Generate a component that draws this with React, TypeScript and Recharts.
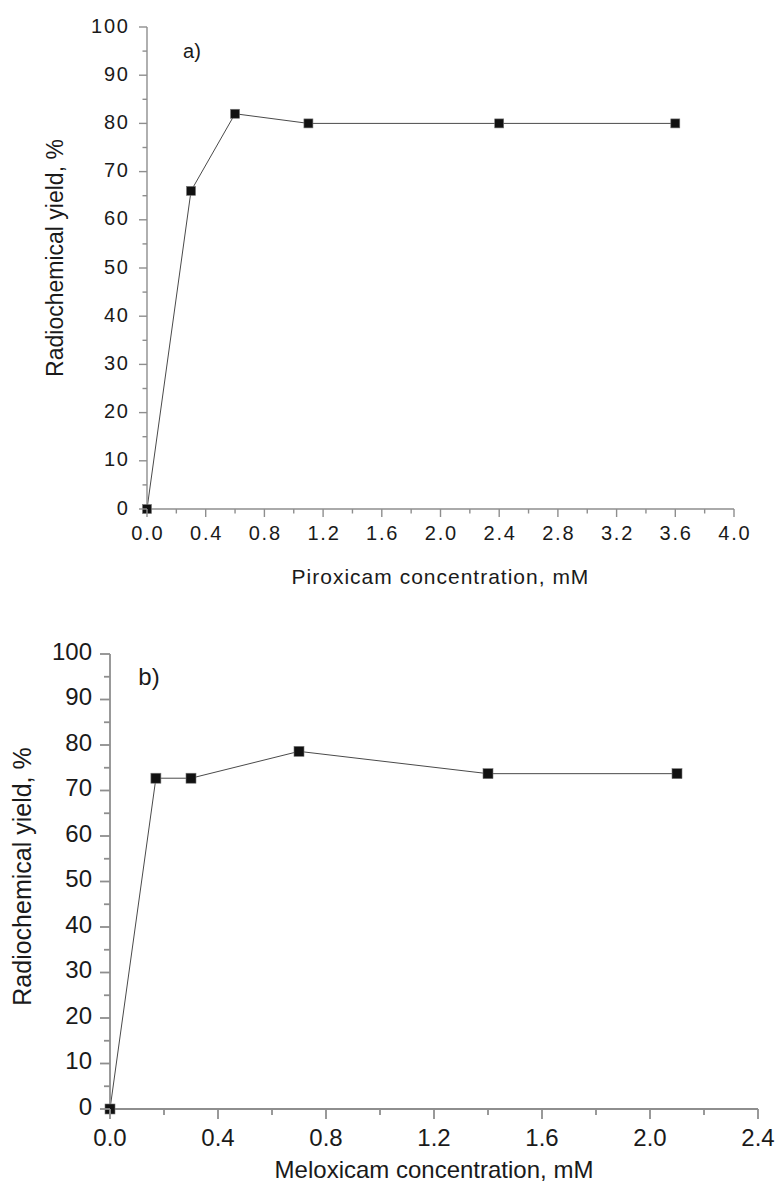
import React from "react"
import { LineChart, Line, XAxis, YAxis } from "recharts"

// a) piroxicam, b) meloxicam — radiochemical yield vs concentration
const PIROXICAM_MM = [0, 0.3, 0.6, 1.1, 2.4, 3.6]
const PIROXICAM_YIELD = [0, 66, 82, 80, 80, 80]

const MELOXICAM_MM = [0, 0.17, 0.3, 0.7, 1.4, 2.1]
const MELOXICAM_YIELD = [0, 72.7, 72.7, 78.6, 73.7, 73.7]

const PIROXICAM_TICKS = [0, 0.4, 0.8, 1.2, 1.6, 2.0, 2.4, 2.8, 3.2, 3.6, 4.0]
const MELOXICAM_TICKS = [0, 0.4, 0.8, 1.2, 1.6, 2.0, 2.4]
const YIELD_TICKS = [0, 10, 20, 30, 40, 50, 60, 70, 80, 90, 100]

const Y_TITLE = "Radiochemical yield, %"

const AXIS_GREY = "#8e8e8e"
const INK = "#1a1a1a"
const FONT = "'Liberation Sans', Arial, sans-serif"

type PanelStyle = {
    width: number
    height: number
    margin: { top: number; right: number; bottom: number; left: number }
    yAxisWidth: number
    xAxisHeight: number
    axisWidth: number
    majorLen: number
    minorLen: number
    tickFont: number
    spacing: number
    xLabelDy: number
    yLabelGap: number
    yLabelDy: number
    xTitleFont: number
    xTitleSpacing: number
    xTitleDy: number
    yTitleFont: number
    yTitleX: number
    yTitleDy: number
    letterFont: number
    letterX: number
    letterY: number
    marker: number
}

const TOP_STYLE: PanelStyle = {
    width: 782,
    height: 600,
    margin: { top: 27, right: 48, bottom: 0, left: 0 },
    yAxisWidth: 147,
    xAxisHeight: 91,
    axisWidth: 1.4,
    majorLen: 8,
    minorLen: 4.5,
    tickFont: 20,
    spacing: 1.8,
    xLabelDy: 23.5,
    yLabelGap: 19,
    yLabelDy: -1.5,
    xTitleFont: 21,
    xTitleSpacing: 1,
    xTitleDy: 67,
    yTitleFont: 23,
    yTitleX: 55,
    yTitleDy: -10,
    letterFont: 20,
    letterX: 192,
    letterY: 51,
    marker: 9,
}

const BOTTOM_STYLE: PanelStyle = {
    width: 782,
    height: 583,
    margin: { top: 54, right: 24, bottom: 0, left: 0 },
    yAxisWidth: 110,
    xAxisHeight: 74,
    axisWidth: 1.8,
    majorLen: 10,
    minorLen: 6,
    tickFont: 24,
    spacing: 0,
    xLabelDy: 28.5,
    yLabelGap: 18,
    yLabelDy: -3,
    xTitleFont: 24,
    xTitleSpacing: 0,
    xTitleDy: 60,
    yTitleFont: 25,
    yTitleX: 22,
    yTitleDy: -5,
    letterFont: 24,
    letterX: 149,
    letterY: 76,
    marker: 10,
}

function withMinor(ticks: number[]) {
    const out: number[] = []
    ticks.forEach((t, i) => {
        out.push(t)
        if (i < ticks.length - 1) out.push((t + ticks[i + 1]) / 2)
    })
    return out
}

const isMajor = (v: number, majors: number[]) => majors.some(m => Math.abs(m - v) < 1e-6)

function Panel({ xs, ys, xTicks, xTitle, letter, s }: {
    xs: number[]
    ys: number[]
    xTicks: number[]
    xTitle: string
    letter: string
    s: PanelStyle
}) {
    const data = xs.map((x, i) => ({ x, y: ys[i] }))
    const plotLeft = s.margin.left + s.yAxisWidth
    const plotRight = s.width - s.margin.right
    const plotTop = s.margin.top
    const plotBottom = s.height - s.margin.bottom - s.xAxisHeight
    const textStyle = { fontFamily: FONT, fill: INK }

    const xTick = (p: any) => {
        const major = isMajor(p.payload.value, xTicks)
        return (
            <g>
                <line x1={p.x} x2={p.x} y1={p.y} y2={p.y + (major ? s.majorLen : s.minorLen)} stroke={AXIS_GREY} strokeWidth={s.axisWidth} />
                {major && (
                    <text x={p.x + s.spacing / 2} y={p.y + s.xLabelDy} textAnchor="middle" dominantBaseline="central"
                        fontSize={s.tickFont} letterSpacing={s.spacing} style={textStyle}>
                        {p.payload.value.toFixed(1)}
                    </text>
                )}
            </g>
        )
    }

    const yTick = (p: any) => {
        const major = isMajor(p.payload.value, YIELD_TICKS)
        return (
            <g>
                <line x1={p.x - (major ? s.majorLen : s.minorLen)} x2={p.x} y1={p.y} y2={p.y} stroke={AXIS_GREY} strokeWidth={s.axisWidth} />
                {major && (
                    <text x={p.x - s.yLabelGap + s.spacing} y={p.y + s.yLabelDy} textAnchor="end" dominantBaseline="central"
                        fontSize={s.tickFont} letterSpacing={s.spacing} style={textStyle}>
                        {p.payload.value}
                    </text>
                )}
            </g>
        )
    }

    const xLabel = () => (
        <text x={(plotLeft + plotRight) / 2} y={plotBottom + s.xTitleDy} textAnchor="middle" dominantBaseline="central"
            fontSize={s.xTitleFont} letterSpacing={s.xTitleSpacing} style={textStyle}>
            {xTitle}
        </text>
    )

    const yCenter = (plotTop + plotBottom) / 2 + s.yTitleDy
    const yLabel = () => (
        <g>
            <text x={s.yTitleX} y={yCenter} transform={`rotate(-90, ${s.yTitleX}, ${yCenter})`} textAnchor="middle"
                dominantBaseline="central" fontSize={s.yTitleFont} style={textStyle}>
                {Y_TITLE}
            </text>
            <text x={s.letterX} y={s.letterY} textAnchor="middle" dominantBaseline="central"
                fontSize={s.letterFont} style={textStyle}>
                {letter}
            </text>
        </g>
    )

    const marker = (p: any) => (
        <rect key={`m-${p.index}`} x={p.cx - s.marker / 2} y={p.cy - s.marker / 2} width={s.marker} height={s.marker}
            fill="#111" stroke="#777" strokeWidth={0.6} />
    )

    return (
        <LineChart width={s.width} height={s.height} data={data} margin={s.margin}>
            <XAxis type="number" dataKey="x" domain={[0, xTicks[xTicks.length - 1]]} ticks={withMinor(xTicks)}
                interval={0} height={s.xAxisHeight} tickSize={0} tickMargin={0} tickLine={false}
                axisLine={{ stroke: AXIS_GREY, strokeWidth: s.axisWidth }} tick={xTick} label={xLabel} />
            <YAxis type="number" dataKey="y" domain={[0, 100]} ticks={withMinor(YIELD_TICKS)} interval={0}
                width={s.yAxisWidth} tickSize={0} tickMargin={0} tickLine={false}
                axisLine={{ stroke: AXIS_GREY, strokeWidth: s.axisWidth }} tick={yTick} label={yLabel} />
            <Line type="linear" dataKey="y" stroke="#4a4a4a" strokeWidth={1} dot={marker} activeDot={false}
                isAnimationActive={false} />
        </LineChart>
    )
}

export default function App() {
    return (
        <div style={{ position: "absolute", left: 0, top: 0, width: 782, height: 1183, background: "#fff" }}>
            <Panel xs={PIROXICAM_MM} ys={PIROXICAM_YIELD} xTicks={PIROXICAM_TICKS}
                xTitle="Piroxicam concentration, mM" letter="a)" s={TOP_STYLE} />
            <Panel xs={MELOXICAM_MM} ys={MELOXICAM_YIELD} xTicks={MELOXICAM_TICKS}
                xTitle="Meloxicam concentration, mM" letter="b)" s={BOTTOM_STYLE} />
        </div>
    )
}
